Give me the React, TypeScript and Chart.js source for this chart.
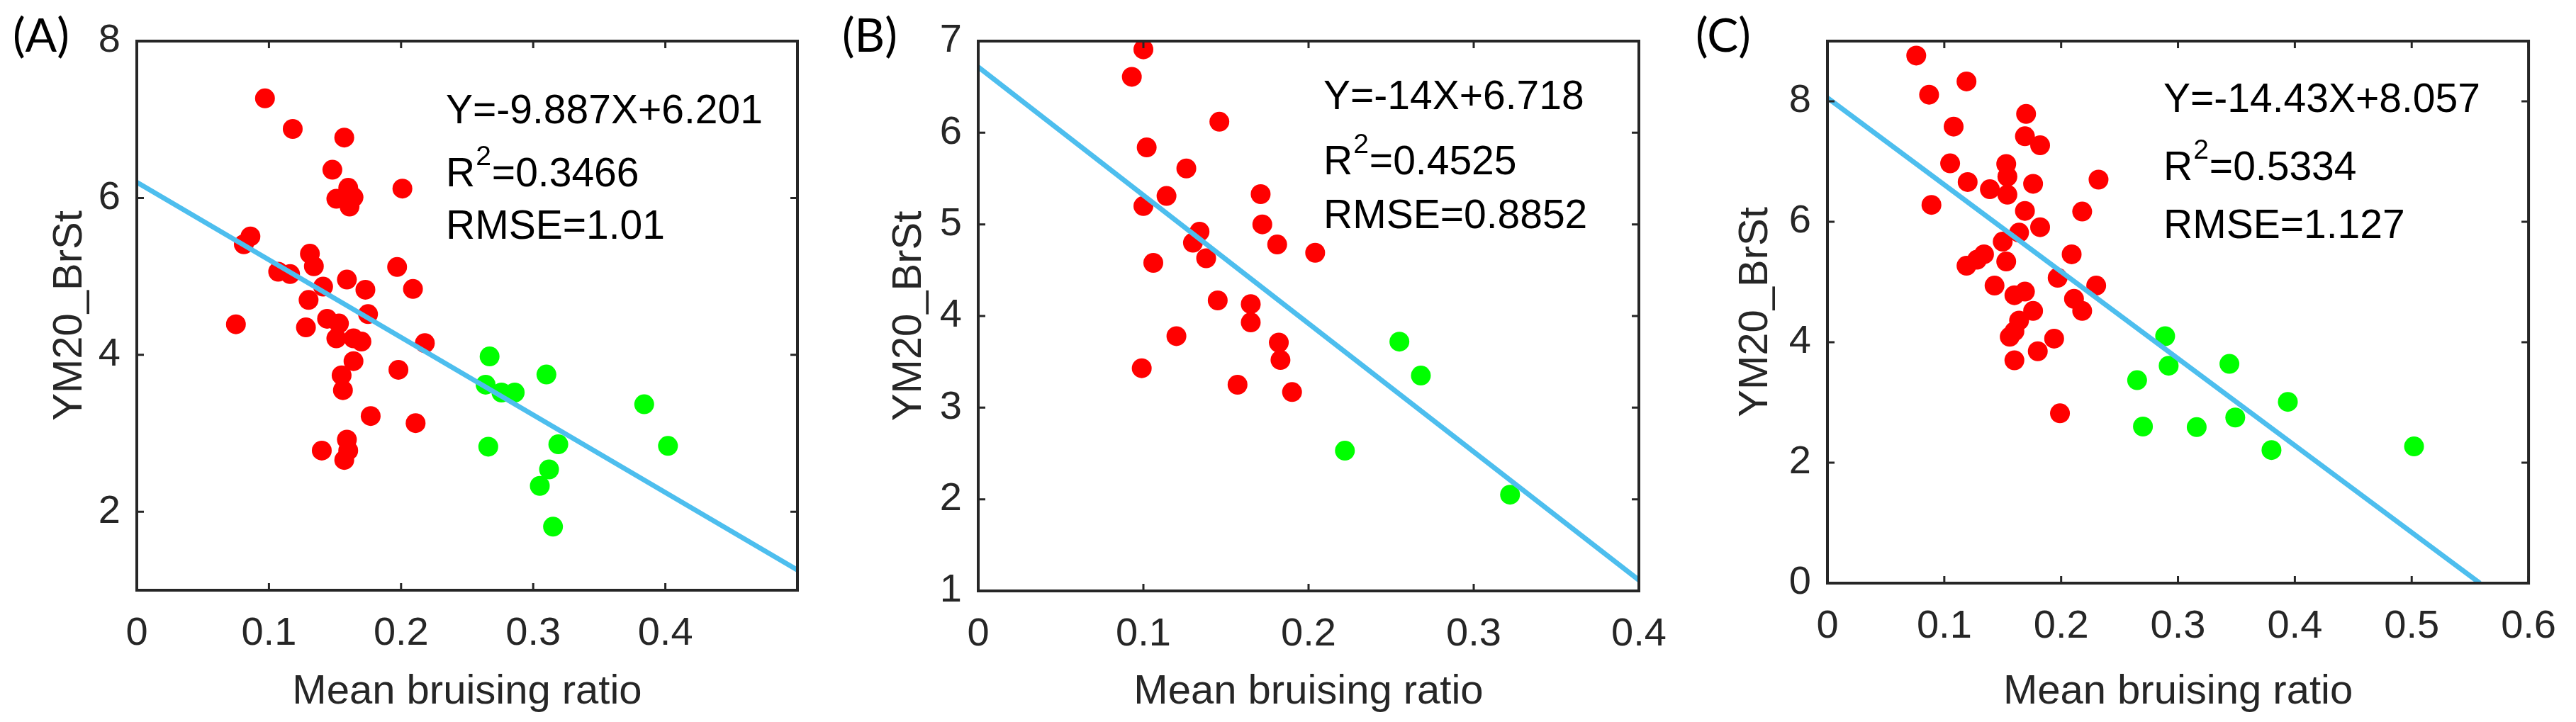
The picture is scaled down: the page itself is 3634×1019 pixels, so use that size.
import React, { useEffect, useRef } from 'react';
import { Chart, registerables } from 'chart.js';

// Register all Chart.js components
Chart.register(...registerables);

// ---- Panel (A) ----
const redAX = [0.097, 0.118, 0.157, 0.148, 0.160, 0.151, 0.164, 0.161, 0.201, 0.086, 0.081, 0.131, 0.134, 0.107, 0.116, 0.141, 0.159, 0.197, 0.173, 0.209, 0.130, 0.175, 0.144, 0.153, 0.075, 0.128, 0.151, 0.164, 0.170, 0.218, 0.164, 0.198, 0.155, 0.156, 0.177, 0.211, 0.159, 0.140, 0.160, 0.157];
const redAY = [7.27, 6.88, 6.77, 6.36, 6.13, 5.99, 6.01, 5.89, 6.12, 5.51, 5.41, 5.29, 5.13, 5.06, 5.03, 4.87, 4.96, 5.12, 4.83, 4.84, 4.70, 4.52, 4.46, 4.40, 4.39, 4.35, 4.21, 4.21, 4.17, 4.15, 3.92, 3.81, 3.74, 3.55, 3.22, 3.13, 2.92, 2.78, 2.78, 2.66];
const greenAX = [0.267, 0.264, 0.276, 0.286, 0.310, 0.384, 0.402, 0.266, 0.319, 0.312, 0.305, 0.315];
const greenAY = [3.98, 3.62, 3.52, 3.52, 3.75, 3.37, 2.84, 2.83, 2.86, 2.54, 2.33, 1.81];
const ticksAX = [0, 0.1, 0.2, 0.3, 0.4];
const ticksAY = [2, 4, 6, 8];

// ---- Panel (B) ----
const redBX = [0.100, 0.093, 0.146, 0.102, 0.126, 0.171, 0.114, 0.100, 0.172, 0.134, 0.130, 0.181, 0.204, 0.106, 0.138, 0.145, 0.165, 0.165, 0.120, 0.182, 0.183, 0.099, 0.157, 0.190];
const redBY = [6.91, 6.61, 6.12, 5.84, 5.61, 5.33, 5.31, 5.20, 5.00, 4.92, 4.80, 4.78, 4.69, 4.58, 4.63, 4.17, 4.13, 3.93, 3.78, 3.71, 3.52, 3.43, 3.25, 3.17];
const greenBX = [0.255, 0.268, 0.222, 0.322];
const greenBY = [3.72, 3.35, 2.53, 2.05];
const ticksBX = [0, 0.1, 0.2, 0.3, 0.4];
const ticksBY = [1, 2, 3, 4, 5, 6, 7];

// ---- Panel (C) ----
const redCX = [0.076, 0.119, 0.087, 0.170, 0.108, 0.169, 0.182, 0.105, 0.153, 0.154, 0.120, 0.232, 0.176, 0.139, 0.154, 0.089, 0.218, 0.169, 0.182, 0.164, 0.150, 0.209, 0.134, 0.128, 0.153, 0.119, 0.197, 0.230, 0.143, 0.169, 0.160, 0.211, 0.218, 0.176, 0.164, 0.160, 0.156, 0.194, 0.180, 0.160, 0.199];
const redCY = [8.76, 8.33, 8.11, 7.79, 7.58, 7.42, 7.27, 6.97, 6.96, 6.75, 6.66, 6.70, 6.63, 6.54, 6.45, 6.28, 6.17, 6.18, 5.91, 5.82, 5.67, 5.46, 5.46, 5.37, 5.34, 5.27, 5.07, 4.94, 4.94, 4.84, 4.78, 4.72, 4.52, 4.52, 4.36, 4.18, 4.09, 4.06, 3.85, 3.70, 2.82];
const greenCX = [0.289, 0.292, 0.344, 0.265, 0.394, 0.349, 0.270, 0.316, 0.380, 0.502];
const greenCY = [4.10, 3.61, 3.64, 3.37, 3.01, 2.75, 2.60, 2.59, 2.21, 2.27];
const ticksCX = [0, 0.1, 0.2, 0.3, 0.4, 0.5, 0.6];
const ticksCY = [0, 2, 4, 6, 8];

// axis limits per panel
const xRanges = [[0, 0.5], [0, 0.4], [0, 0.6]];
const yRanges = [[1, 8], [1, 7], [0, 9]];

// fit results printed in each panel
const slopes = [-9.887, -14, -14.43];
const intercepts = [6.201, 6.718, 8.057];
const r2Values = [0.3466, 0.4525, 0.5334];
const rmseValues = [1.01, 0.8852, 1.127];

const panelLetters = ['(A)', '(B)', '(C)'];
const xLabel = 'Mean bruising ratio';
const yLabel = 'YM20_BrSt';

// ---- layout (page pixels) ----
const PAGE_W = 3634;
const PAGE_H = 1019;
const AXIS_BOX = 100;
const frames = [
  { left: 193, top: 58, right: 1125, bottom: 833 },
  { left: 1380, top: 58, right: 2312, bottom: 834 },
  { left: 2578, top: 58, right: 3579, bottom: 823 },
];
const letterLeft = [18, 1188, 2392];
const yLabelBase = [115, 1299, 2493];
const eqLeft = [629, 1867, 3052];
const eqBase = [174, 154, 158];
const eqGaps = [[89, 163], [92, 168], [96, 178]];

const AXIS_COLOR = '#262626';
const RED = '#ff0000';
const GREEN = '#00ff00';
const FIT_COLOR = '#4dbeee';
const SANS = '"Liberation Sans", Arial, sans-serif';

interface PanelProps {
  index: number;
  redX: number[];
  redY: number[];
  greenX: number[];
  greenY: number[];
  xTicks: number[];
  yTicks: number[];
}

const ScatterPanel: React.FC<PanelProps> = ({ index, redX, redY, greenX, greenY, xTicks, yTicks }) => {
  const chartRef = useRef<HTMLCanvasElement>(null);
  const chartInstance = useRef<Chart | null>(null);

  useEffect(() => {
    if (!chartRef.current) return;
    const ctx = chartRef.current.getContext('2d');
    if (!ctx) return;

    const frame = frames[index];
    const [xMin, xMax] = xRanges[index];
    const [yMin, yMax] = yRanges[index];
    const slope = slopes[index];
    const b = intercepts[index];
    // fitted line stops where it leaves the axes
    const xEnd = Math.min(xMax, (yMin - b) / slope);
    const toPoints = (xs: number[], ys: number[]) => xs.map((x, k) => ({ x, y: ys[k] }));

    const decor = {
      id: 'panelDecor',
      afterDraw(chart: any) {
        const c = chart.ctx as CanvasRenderingContext2D;
        const a = chart.chartArea;
        const xs = chart.scales.x;
        const ys = chart.scales.y;
        c.save();

        // inward ticks on all four sides (box on)
        c.strokeStyle = AXIS_COLOR;
        c.lineWidth = 3;
        c.beginPath();
        xs.ticks.forEach((t: any) => {
          const px = xs.getPixelForValue(t.value);
          c.moveTo(px, a.bottom);
          c.lineTo(px, a.bottom - 10);
          c.moveTo(px, a.top);
          c.lineTo(px, a.top + 10);
        });
        ys.ticks.forEach((t: any) => {
          const py = ys.getPixelForValue(t.value);
          c.moveTo(a.left, py);
          c.lineTo(a.left + 10, py);
          c.moveTo(a.right, py);
          c.lineTo(a.right - 10, py);
        });
        c.stroke();
        c.lineWidth = 4;
        c.strokeRect(a.left, a.top, a.right - a.left, a.bottom - a.top);

        // axis titles
        c.fillStyle = AXIS_COLOR;
        c.font = `58px ${SANS}`;
        c.textAlign = 'center';
        c.textBaseline = 'alphabetic';
        c.fillText(xLabel, (a.left + a.right) / 2, 993);
        c.save();
        c.translate(yLabelBase[index], (a.top + a.bottom) / 2);
        c.rotate(-Math.PI / 2);
        c.fillText(yLabel, 0, 0);
        c.restore();

        // panel letter
        c.fillStyle = '#000';
        c.textAlign = 'left';
        c.font = `66px Lato, "Open Sans", sans-serif`;
        c.fillText(panelLetters[index], letterLeft[index], 73);

        // regression text
        const x0 = eqLeft[index];
        const y0 = eqBase[index];
        const [g1, g2] = eqGaps[index];
        c.font = `57px ${SANS}`;
        c.fillText(`Y=${slope}X+${b}`, x0, y0);
        c.fillText('R', x0, y0 + g1);
        const rW = c.measureText('R').width;
        c.font = `39px ${SANS}`;
        c.fillText('2', x0 + rW + 1, y0 + g1 - 30);
        const supW = c.measureText('2').width;
        c.font = `57px ${SANS}`;
        c.fillText(`=${r2Values[index]}`, x0 + rW + supW + 2, y0 + g1);
        c.fillText(`RMSE=${rmseValues[index]}`, x0, y0 + g2);

        c.restore();
      },
    };

    const tickFont = { family: SANS, size: 56 };

    chartInstance.current = new Chart(ctx, {
      type: 'scatter',
      data: {
        datasets: [
          {
            data: [{ x: xMin, y: slope * xMin + b }, { x: xEnd, y: slope * xEnd + b }],
            showLine: true,
            borderColor: FIT_COLOR,
            borderWidth: 7,
            pointRadius: 0,
            fill: false,
          },
          {
            data: toPoints(redX, redY),
            backgroundColor: RED,
            pointBackgroundColor: RED,
            pointRadius: 14,
            pointBorderWidth: 0,
            borderWidth: 0,
          },
          {
            data: toPoints(greenX, greenY),
            backgroundColor: GREEN,
            pointBackgroundColor: GREEN,
            pointRadius: 14,
            pointBorderWidth: 0,
            borderWidth: 0,
          },
        ],
      },
      options: {
        animation: false,
        responsive: false,
        maintainAspectRatio: false,
        events: [],
        layout: {
          padding: {
            left: frame.left - AXIS_BOX,
            top: frame.top,
            right: PAGE_W - frame.right,
            bottom: PAGE_H - frame.bottom - AXIS_BOX,
          },
        },
        plugins: {
          legend: { display: false },
          tooltip: { enabled: false },
        },
        scales: {
          x: {
            type: 'linear',
            position: 'bottom',
            min: xMin,
            max: xMax,
            afterBuildTicks: (s: any) => {
              s.ticks = xTicks.map((v) => ({ value: v }));
            },
            afterFit: (s: any) => {
              s.height = AXIS_BOX;
            },
            grid: { display: false, drawTicks: false },
            border: { display: false },
            ticks: {
              font: tickFont,
              color: AXIS_COLOR,
              padding: 28,
              maxRotation: 0,
              autoSkip: false,
              callback: (v: any) => String(v),
            },
          },
          y: {
            type: 'linear',
            position: 'left',
            min: yMin,
            max: yMax,
            afterBuildTicks: (s: any) => {
              s.ticks = yTicks.map((v) => ({ value: v }));
            },
            afterFit: (s: any) => {
              s.width = AXIS_BOX;
            },
            grid: { display: false, drawTicks: false },
            border: { display: false },
            ticks: {
              font: tickFont,
              color: AXIS_COLOR,
              padding: 23,
              autoSkip: false,
              callback: (v: any) => String(v),
            },
          },
        },
      },
      plugins: [decor],
    } as any);

    // Clean up chart instance on unmount
    return () => {
      if (chartInstance.current) {
        chartInstance.current.destroy();
        chartInstance.current = null;
      }
    };
  }, [index]);

  return (
    <canvas
      ref={chartRef}
      width={PAGE_W}
      height={PAGE_H}
      style={{ position: 'absolute', left: 0, top: 0 }}
    />
  );
};

export default function App() {
  return (
    <div style={{ position: 'absolute', left: 0, top: 0, width: PAGE_W, height: PAGE_H, background: '#fff' }}>
      <ScatterPanel index={0} redX={redAX} redY={redAY} greenX={greenAX} greenY={greenAY} xTicks={ticksAX} yTicks={ticksAY} />
      <ScatterPanel index={1} redX={redBX} redY={redBY} greenX={greenBX} greenY={greenBY} xTicks={ticksBX} yTicks={ticksBY} />
      <ScatterPanel index={2} redX={redCX} redY={redCY} greenX={greenCX} greenY={greenCY} xTicks={ticksCX} yTicks={ticksCY} />
    </div>
  );
}
